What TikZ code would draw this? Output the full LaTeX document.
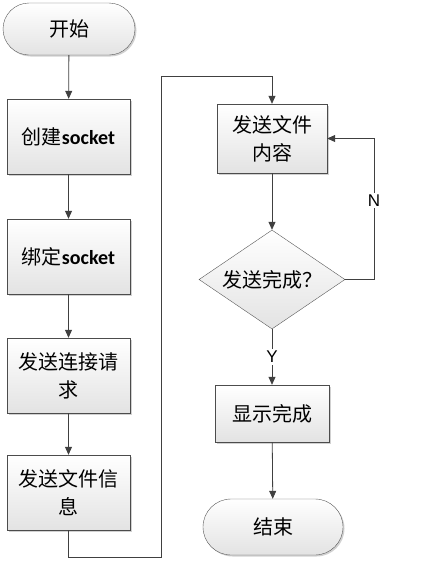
\documentclass[tikz,border=0pt]{standalone}
\usepackage{fontspec}
\setmainfont{Noto Sans CJK SC}
\newfontfamily\latsf{Carlito}
\newfontfamily\arsf{Liberation Sans}
\usetikzlibrary{arrows.meta,shapes.geometric,shadows}

\begin{document}
\begin{tikzpicture}[x=1pt, y=-1pt, font=\fontsize{20}{28}\selectfont]
\tikzset{
    PB/.style={draw=black!70, top color=white, bottom color=gray!22,
               minimum width=123pt, minimum height=75pt, inner sep=2pt,
               align=center, text=black,
               drop shadow={shadow xshift=1.5pt, shadow yshift=-1.5pt,
                            fill=black!30, opacity=0.6}},
    TM/.style={draw=black!65, top color=white, bottom color=gray!22,
               align=center, text=black,
               drop shadow={shadow xshift=1.5pt, shadow yshift=-1.5pt,
                            fill=black!30, opacity=0.6}},
    DC/.style={diamond, aspect=1.47, draw=black!65, top color=white,
               bottom color=gray!22, minimum width=146pt, minimum height=99pt,
               inner sep=0pt, align=center, text=black},
    AR/.style={draw=black!75, line width=0.8pt,
               -{Triangle[length=8pt, width=7pt]}},
    LB/.style={font=\arsf\fontsize{17}{17}\selectfont, fill=white,
               inner sep=2pt, text=black},
}
\useasboundingbox (0,0) rectangle (429,568);

%── Left column ────────────────────────────────────────────────
\node[TM, minimum width=132pt, minimum height=52pt, rounded corners=26pt]
      (start) at (69, 29) {开始};
\node[PB] (mk)   at (68.5, 136.5) {创建{\latsf\bfseries socket}};
\node[PB] (bind) at (68.5, 256.5) {绑定{\latsf\bfseries socket}};
\node[PB] (conn) at (68.5, 375.5) {发送连接请\\求};
\node[PB] (info) at (68.5, 492.5) {发送文件信\\息};

%── Right column ───────────────────────────────────────────────
\node[PB, minimum width=110pt, minimum height=69pt]
      (body) at (272, 138.5) {发送文件\\内容};
\node[DC] (done) at (272, 279.5) {发送完成？};
\node[PB, minimum width=114pt, minimum height=57pt]
      (show) at (272, 413.5) {显示完成};
\node[TM, minimum width=140pt, minimum height=56pt, rounded corners=28pt]
      (stop) at (273, 527) {结束};

% bends of the jump line and the N loop
\coordinate (turnL) at (161, 557);
\coordinate (turnT) at (161, 76);
\coordinate (loopN) at (374, 138.5);

%── Connectors ─────────────────────────────────────────────────
\draw[AR] (start) -- (mk);
\draw[AR] (mk)    -- (bind);
\draw[AR] (bind)  -- (conn);
\draw[AR] (conn)  -- (info);
\draw[AR] (info.south) |- (turnL) -- (turnT) -| (body.north);
\draw[AR] (body)  -- (done);
\draw[AR] (done.east) -| node[LB, pos=0.78] {N} (loopN) -- (body.east);
\draw[AR] (done.south) -- node[LB] {Y} (show.north);
\draw[AR] (show)  -- (stop);

\end{tikzpicture}
\end{document}
